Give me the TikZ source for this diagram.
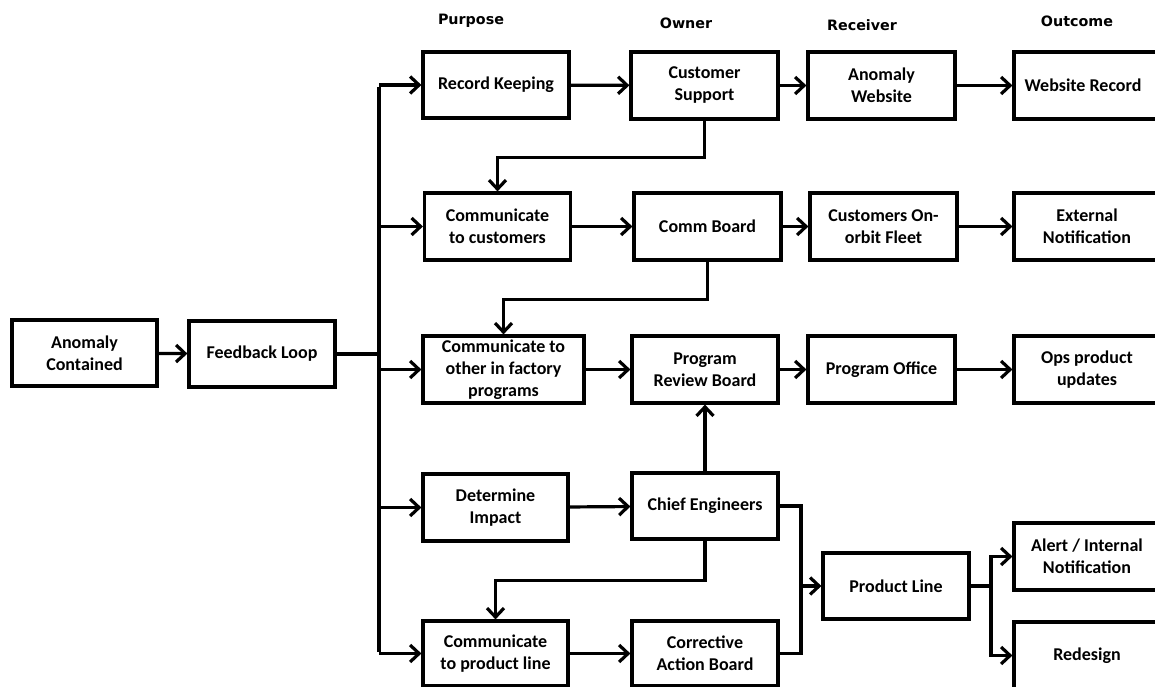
\documentclass[tikz,border=0pt]{standalone}
\usepackage{fontspec}
\setmainfont{Carlito}
\newfontfamily\hdrfont{DejaVu Sans}
\usetikzlibrary{arrows.meta}
\begin{document}
\begin{tikzpicture}[x=1pt,y=-1pt,
  box/.style={draw, line width=3.2pt, inner sep=0pt, align=center,
    minimum width=146pt, minimum height=66pt,
    font=\bfseries\fontsize{18}{22}\selectfont},
  ln/.style={line width=3.2pt},
  arr/.style={line width=3.2pt, -{Straight Barb[length=9pt,width=17pt]}},
  hdr/.style={font=\hdrfont\bfseries\fontsize{14.3}{16}\selectfont}]
\useasboundingbox[fill=white] (0,0) rectangle (1155,687);

% headers
\node[hdr] (h1) at (471,21) {Purpose};
\node[hdr] (h2) at (686,23) {Owner};
\node[hdr] (h3) at (862,25) {Receiver};
\node[hdr] (h4) at (1077,21) {Outcome};

% left
\node[box, minimum width=145pt] (ac) at (84.5,353) {Anomaly\\Contained};
\node[box] (fl) at (262,354) {Feedback Loop};

% purpose column
\node[box] (rk) at (496,85) {Record Keeping};
\node[box, minimum height=67pt] (cc) at (497.5,226.5) {Communicate\\to customers};
\node[box, minimum width=161pt, minimum height=67pt] (co) at (503.5,369.5) {Communicate to\\other in factory\\programs};
\node[box, minimum width=145pt, minimum height=67pt] (di) at (495.5,507.5) {Determine\\Impact};
\node[box, minimum width=145pt, minimum height=65pt] (cp) at (495.5,653.5) {Communicate\\to product line};

% owner column
\node[box, minimum width=147pt, minimum height=67pt] (cs) at (704.5,85.5) {Customer\\Support};
\node[box, minimum width=147pt, minimum height=67pt] (cb) at (707.5,226.5) {Comm Board};
\node[box, minimum height=67pt] (pr) at (705,369.5) {Program\\Review Board};
\node[box] (ce) at (705,506) {Chief Engineers};
\node[box, minimum height=65pt] (ca) at (705,653.5) {Corrective\\Action Board};

% receiver column
\node[box, minimum width=147pt, minimum height=67pt] (aw) at (881.5,85.5) {Anomaly\\Website};
\node[box, minimum width=147pt, minimum height=67pt] (cf) at (883.5,226.5) {Customers On-\\orbit Fleet};
\node[box, minimum width=147pt, minimum height=67pt] (po) at (881.5,369.5) {Program Office};
\node[box] (pl) at (896,586) {Product Line};

% outcome column (right edges run past the page)
\node[box, minimum width=146pt, minimum height=67pt] (wr) at (1087,85.5) {\hspace*{-8pt}Website Record};
\node[box, minimum width=146pt, minimum height=67pt] (en) at (1087,226.5) {External\\Notification};
\node[box, minimum width=146pt, minimum height=67pt] (op) at (1087,369.5) {Ops product\\updates};
\node[box, minimum width=146pt, minimum height=67pt] (al) at (1087,556.5) {Alert / Internal\\Notification};
\node[box, minimum width=146pt, minimum height=67pt] (rd) at (1087,655.5) {Redesign};

% trunk
\coordinate (jT) at (379,85);
\coordinate (jB) at (379,653.5);
\draw[arr] (ac) -- (fl);
\draw[ln] (fl.east) -- (fl.east -| jT);
\draw[ln] ([yshift=-1.6pt]jT) -- ([yshift=1.6pt]jB);
\draw[arr] (jT) -- (rk.west);
\draw[arr] (jT |- cc.west) -- (cc.west);
\draw[arr] (jT |- co.west) -- (co.west);
\draw[arr] (jT |- di.west) -- (di.west);
\draw[arr] (jB) -- (cp.west);

% rows
\draw[arr] (rk) -- (cs);
\draw[arr] (cs) -- (aw);
\draw[arr] (aw) -- (wr);
\draw[arr] (cc) -- (cb);
\draw[arr] (cb) -- (cf);
\draw[arr] (cf) -- (en);
\draw[arr] (co) -- (pr);
\draw[arr] (pr) -- (po);
\draw[arr] (po) -- (op);
\draw[arr] (di) -- (ce);
\draw[arr] (cp) -- (ca);

% loops
\draw[arr] (cs.south) -- ++(0,37) -| (cc.north);
\draw[arr] (cb.south) -- ++(0,38) -| (co.north);
\draw[arr] (ce.north) -- (pr.south);
\draw[arr] (ce.south) -- ++(0,40) -| (cp.north);

% product line join
\coordinate (jP) at (801,586);
\draw[ln] (ce.east) -| (jP |- ca.east) -- (ca.east);
\draw[arr] (jP) -- (pl.west);
\coordinate (jS) at (991,586);
\draw[ln] (pl.east) -- (jS);
\draw[arr] (jS) |- (al.west);
\draw[arr] (jS) |- (rd.west);
\end{tikzpicture}
\end{document}
